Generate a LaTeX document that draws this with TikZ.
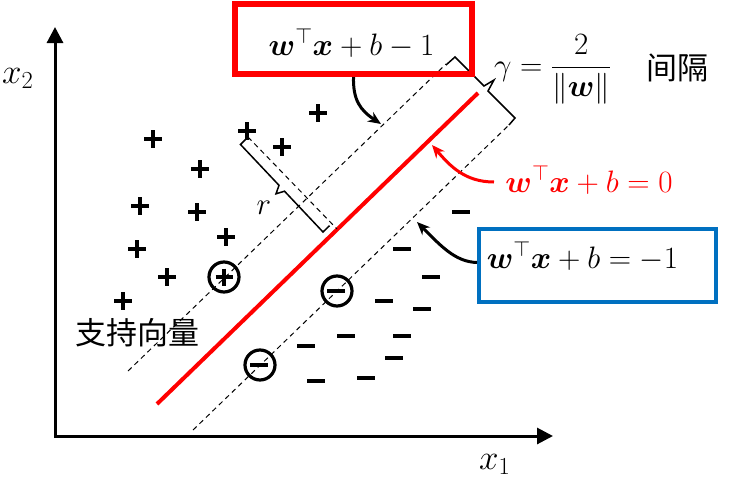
\RequirePackage{fix-cm}
\documentclass[tikz,border=0pt]{standalone}
\usepackage{fontspec}
\usepackage{amsmath,bm}
\newfontfamily\cjk{Noto Sans CJK SC}
\usetikzlibrary{arrows.meta,calc}
\definecolor{boxblue}{RGB}{0,112,192}
\begin{document}
\begin{tikzpicture}[x=1pt,y=-1pt,
 lbl/.style={font=\fontsize{31}{37}\selectfont, inner sep=0pt},
 axlbl/.style={font=\fontsize{35}{42}\selectfont, inner sep=0pt},
 cjklbl/.style={font=\cjk\fontsize{31}{37}\selectfont, inner sep=0pt},
 axisline/.style={line width=3pt, line join=miter, {Triangle[length=16pt,width=16pt]}-{Triangle[length=16pt,width=16pt]}},
 dline/.style={line width=1pt, dash pattern=on 5pt off 4pt},
 brk/.style={line width=1.5pt, line join=miter},
 callout/.style={line width=3pt, -{Stealth[length=13pt,width=11pt]}},
 mk/.style={line width=3.2pt},
 plusmark/.pic={\draw[mk] (-9,0)--(9,0) (0,-9)--(0,9);},
 minusmark/.pic={\draw[mk] (-9,0)--(9,0);},
 cplus/.pic={\draw[mk] (0,0) circle[radius=15]; \draw[mk] (-8.5,0)--(8.5,0) (0,-8.5)--(0,8.5);},
 cminus/.pic={\draw[mk] (0,0) circle[radius=15]; \draw[mk] (-10,0)--(8,0);},
]
\useasboundingbox (0,0) rectangle (734,482);

% axes
\coordinate (O) at (55,436);
\coordinate (xend) at (553,436);
\coordinate (yend) at (55,27);
\draw[axisline] (yend) -- (O) -- (xend);
\node[axlbl, anchor=base west] (x2) at (2,83) {$x_2$};
\node[axlbl, anchor=base west] (x1) at (479,469) {$x_1$};

% lines
\coordinate (u1) at (128,371); \coordinate (u2) at (446,64);
\coordinate (l1) at (193,430); \coordinate (l2) at (509,125);
\coordinate (r1) at (157,404); \coordinate (r2) at (478,93);
\draw[dline] (u1) -- (u2);
\draw[dline] (l1) -- (l2);
\draw[red, line width=4pt] (r1) -- (r2);

% perpendicular from point to hyperplane
\coordinate (rp1) at (248,137); \coordinate (rp2) at (337,229);
\draw[dline] (rp1) -- (rp2);

% r bracket
\draw[brk] (247,138) -- (240.5,144.5) -- (279,185.3) -- (276,193.8) -- (284.5,191.2) -- (323,232) -- (329.5,225.7);
\node[lbl, anchor=base] (rlab) at (264,214) {$r$};

% gamma bracket
\draw[brk] (446,65) -- (455,57) -- (484,86) -- (494,80) -- (488,91) -- (515,118) -- (509,125);

% points
\foreach \p in {(318,113),(153,139),(247,131),(282,147),(200,169),(140,206),(197,212),(226,237),(137,249),(167,277),(123,301)}
  \pic at \p {plusmark};
\pic at (224,277) {cplus};
\foreach \p in {(461,212),(402,249),(431,277),(384,301),(422,309),(346,336),(402,336),(306,346),(394,358),(316,381),(366,378)}
  \pic at \p {minusmark};
\pic at (337,291) {cminus};
\pic at (260,365) {cminus};

% labels
\node[cjklbl] (sv) at (137,333) {支持向量};
\node[lbl, anchor=base west] (gam) at (494,75) {$\gamma=\dfrac{2}{\|\bm{w}\|}$};
\node[cjklbl] (gap) at (677,68) {间隔};

% red box (top)
\node[draw=red, line width=6pt, minimum width=237pt, minimum height=70pt, inner sep=0pt] (redbox) at (353.5,39) {};
\node[lbl, anchor=base] (toptxt) at (351.5,55) {$\bm{w}^{\top}\bm{x}+b-1$};
\coordinate (tA) at (381,124);
\draw[callout] (redbox.south) .. controls (353,100) and (360,110) .. (tA);

% red label
\node[lbl, red, anchor=base] (redtxt) at (589,192) {$\bm{w}^{\top}\bm{x}+b=0$};
\coordinate (sC) at (494,182);
\coordinate (tC) at (432,145);
\draw[callout, red] (sC) .. controls (465,182) and (450,166) .. (tC);

% blue box
\node[draw=boxblue, line width=4pt, minimum width=237pt, minimum height=73pt, inner sep=0pt] (bluebox) at (597.5,265.5) {};
\node[lbl, anchor=base] (bottxt) at (582.5,268) {$\bm{w}^{\top}\bm{x}+b=-1$};
\coordinate (tB) at (417,222);
\draw[callout] ($(bluebox.west)+(0,-3)$) .. controls (455,262) and (440,245) .. (tB);
\end{tikzpicture}
\end{document}
